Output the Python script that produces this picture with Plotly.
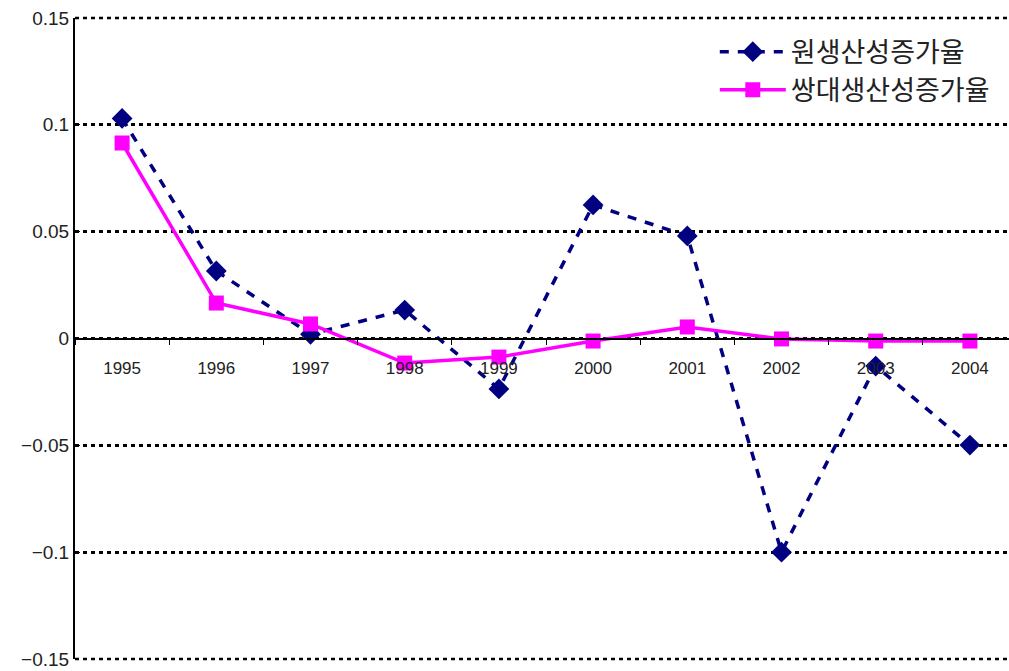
import plotly.graph_objects as go

years = ["1995", "1996", "1997", "1998", "1999", "2000", "2001", "2002", "2003", "2004"]
raw_growth = [0.103, 0.0316, 0.002, 0.0133, -0.0236, 0.0625, 0.048, -0.100, -0.0129, -0.0499]
dual_growth = [0.0915, 0.0166, 0.0068, -0.0115, -0.0087, -0.0012, 0.0054, -0.0002, -0.0012, -0.0012]
y_ticks = [-0.15, -0.1, -0.05, 0, 0.05, 0.1, 0.15]
y_labels = ["\u22120.15", "\u22120.1", "\u22120.05", "0", "0.05", "0.1", "0.15"]
y_min, y_max = -0.15, 0.15

fig = go.Figure()
fig.add_trace(go.Scatter(
    x=years, y=raw_growth, name="원생산성증가율", mode="lines+markers",
    legendgroup="a",
    line=dict(color="#000080", width=3.5, dash="9px,9px"),
    marker=dict(symbol="diamond", size=16, color="#000080"),
))
fig.add_trace(go.Scatter(
    x=years, y=dual_growth, name="쌍대생산성증가율", mode="lines+markers",
    legendgroup="b",
    line=dict(color="#FF00FF", width=3.5),
    marker=dict(symbol="square", size=15, color="#FF00FF"),
))

# dotted gridlines at the range edges (Plotly omits them)
for yp in (0, 1):
    fig.add_shape(type="line", xref="paper", yref="paper", x0=0, x1=1, y0=yp, y1=yp,
                  line=dict(color="black", width=2.5, dash="4px,4px"), layer="below")

fig.update_layout(
    width=1009, height=671,
    margin=dict(l=75, r=0, t=18, b=12),
    paper_bgcolor="white", plot_bgcolor="white",
    font=dict(family="Liberation Sans, Noto Sans CJK KR", color="#222222"),
    showlegend=True,
    legend=dict(
        x=0.685, y=0.985, xanchor="left", yanchor="top",
        bgcolor="rgba(255,255,255,0)",
        font=dict(family="Noto Sans CJK KR", size=27, color="#222222"),
        itemwidth=66, tracegroupgap=0,
    ),
    xaxis=dict(
        type="category", range=[-0.5, 9.415],
        anchor="free", position=0.5,
        showline=True, linecolor="black", linewidth=2,
        ticks="outside", tickson="boundaries", ticklen=5, tickcolor="black",
        showgrid=False,
        tickfont=dict(family="Liberation Sans", size=17, color="#222222"),
        ticklabelstandoff=14,
    ),
    yaxis=dict(
        range=[y_min, y_max], tickvals=y_ticks, ticktext=y_labels,
        showline=True, linecolor="black", linewidth=2,
        ticks="inside", ticklen=5, tickcolor="black",
        showgrid=True, gridcolor="black", gridwidth=2.5, griddash="4px,4px",
        zeroline=False,
        tickfont=dict(family="Liberation Sans", size=19, color="#222222"),
    ),
)

fig.write_html("out.html")
